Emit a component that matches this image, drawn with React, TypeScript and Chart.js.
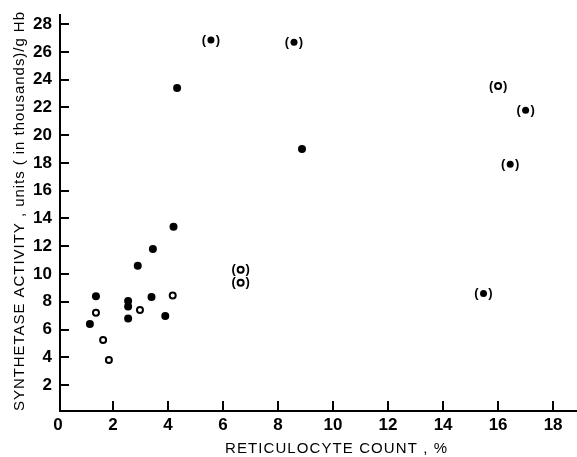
import React, { useEffect, useRef } from "react";
import { Chart, registerables } from "chart.js";

Chart.register(...registerables);

const xTicks = [0, 2, 4, 6, 8, 10, 12, 14, 16, 18];
const yTicks = [2, 4, 6, 8, 10, 12, 14, 16, 18, 20, 22, 24, 26, 28];

const filledX = [4.33, 4.2, 3.45, 2.9, 1.38, 2.55, 2.55, 2.55, 3.4, 3.9, 1.16, 8.87];
const filledY = [23.4, 13.4, 11.8, 10.6, 8.4, 8.05, 7.65, 6.8, 8.35, 6.97, 6.4, 19.0];

const openX = [1.38, 1.64, 1.85, 2.98, 4.17];
const openY = [7.2, 5.25, 3.8, 7.4, 8.45];

const parenFilledX = [5.56, 8.58, 17.0, 16.44, 15.47];
const parenFilledY = [26.86, 26.7, 21.8, 17.9, 8.6];

const parenOpenX = [16.0, 6.64, 6.64];
const parenOpenY = [23.55, 10.3, 9.37];

const xTitle = "RETICULOCYTE COUNT , %";
const yTitle = "SYNTHETASE ACTIVITY , units ( in thousands)/g Hb";

const FONT = "'Liberation Sans', Arial, sans-serif";

function pts(xs: number[], ys: number[]) {
  return xs.map((x, i) => ({ x, y: ys[i] }));
}

function drawSpaced(ctx: CanvasRenderingContext2D, text: string, target: number) {
  (ctx as any).letterSpacing = "0px";
  const w = ctx.measureText(text).width;
  const sp = (target - w) / Math.max(1, text.length - 1);
  (ctx as any).letterSpacing = sp + "px";
  return sp;
}

const customPlugin = {
  id: "custom",
  afterDatasetsDraw(chart: any) {
    const ctx: CanvasRenderingContext2D = chart.ctx;
    const xs = chart.scales.x;
    const ys = chart.scales.y;
    const area = chart.chartArea;
    ctx.save();
    ctx.strokeStyle = "#000";
    ctx.lineWidth = 2;
    // extend the x axis line to the right edge
    const by = Math.round(area.bottom);
    ctx.beginPath();
    ctx.moveTo(area.right - 2, by);
    ctx.lineTo(chart.width, by);
    ctx.stroke();
    // inward tick marks
    xTicks.forEach((v) => {
      if (v === 0) return;
      const px = Math.round(xs.getPixelForValue(v));
      ctx.beginPath();
      ctx.moveTo(px, area.bottom);
      ctx.lineTo(px, area.bottom - 10);
      ctx.stroke();
    });
    yTicks.forEach((v) => {
      const py = Math.round(ys.getPixelForValue(v));
      ctx.beginPath();
      ctx.moveTo(area.left, py);
      ctx.lineTo(area.left + 9, py);
      ctx.stroke();
    });
    // parentheses around bracketed points
    ctx.fillStyle = "#000";
    ctx.font = "bold 13px " + FONT;
    ctx.textAlign = "center";
    ctx.textBaseline = "middle";
    [2, 3].forEach((di) => {
      const meta = chart.getDatasetMeta(di);
      meta.data.forEach((el: any) => {
        ctx.fillText("(", el.x - 7, el.y);
        ctx.fillText(")", el.x + 7, el.y);
      });
    });
    // titles
    ctx.font = "15px " + FONT;
    ctx.textAlign = "left";
    ctx.textBaseline = "alphabetic";
    drawSpaced(ctx, xTitle, 222);
    ctx.fillText(xTitle, 225, 453);
    ctx.save();
    ctx.translate(24, 411);
    ctx.rotate(-Math.PI / 2);
    drawSpaced(ctx, yTitle, 399);
    ctx.fillText(yTitle, 0, 0);
    ctx.restore();
    (ctx as any).letterSpacing = "0px";
    ctx.restore();
  },
};

export default function App() {
  const ref = useRef<HTMLCanvasElement>(null);
  useEffect(() => {
    if (!ref.current) return;
    const chart = new Chart(ref.current, {
      type: "scatter",
      data: {
        datasets: [
          {
            data: pts(filledX, filledY),
            pointRadius: 4,
            pointBackgroundColor: "#000",
            pointBorderColor: "#000",
            pointBorderWidth: 0,
          },
          {
            data: pts(openX, openY),
            pointRadius: 3,
            pointBackgroundColor: "#fff",
            pointBorderColor: "#000",
            pointBorderWidth: 2,
          },
          {
            data: pts(parenFilledX, parenFilledY),
            pointRadius: 3.5,
            pointBackgroundColor: "#000",
            pointBorderColor: "#000",
            pointBorderWidth: 0,
          },
          {
            data: pts(parenOpenX, parenOpenY),
            pointRadius: 3,
            pointBackgroundColor: "#fff",
            pointBorderColor: "#000",
            pointBorderWidth: 2,
          },
        ],
      },
      options: {
        responsive: false,
        animation: false,
        devicePixelRatio: 1,
        layout: { padding: { top: 15, right: 0, left: 0, bottom: 0 } },
        plugins: { legend: { display: false }, tooltip: { enabled: false } },
        scales: {
          x: {
            type: "linear",
            min: 0.073,
            max: 18.65,
            afterFit: (s: any) => {
              s.height = 46;
              s.paddingRight = 0;
              s.paddingLeft = 0;
            },
            afterBuildTicks: (s: any) => {
              s.ticks = xTicks.map((v) => ({ value: v }));
            },
            grid: { display: true, drawOnChartArea: false, drawTicks: false },
            border: { display: true, color: "#000", width: 2 },
            ticks: {
              color: "#000",
              padding: 4,
              autoSkip: false,
              maxRotation: 0,
              font: { family: FONT, size: 17, weight: "bold" },
              callback: (v: any) => String(v),
            },
          },
          y: {
            type: "linear",
            min: 0.13,
            max: 28.66,
            afterFit: (s: any) => {
              s.width = 60;
              s.paddingTop = 0;
              s.paddingBottom = 0;
            },
            afterBuildTicks: (s: any) => {
              s.ticks = yTicks.map((v) => ({ value: v }));
            },
            grid: { display: true, drawOnChartArea: false, drawTicks: false },
            border: { display: true, color: "#000", width: 2 },
            ticks: {
              color: "#000",
              padding: 8,
              autoSkip: false,
              font: { family: FONT, size: 17, weight: "bold" },
              callback: (v: any) => String(v),
            },
          },
        },
      },
      plugins: [customPlugin],
    } as any);
    return () => chart.destroy();
  }, []);
  return (
    <div style={{ position: "absolute", left: 0, top: 0, width: 577, height: 457, background: "#fff" }}>
      <canvas ref={ref} width={577} height={457} />
    </div>
  );
}
